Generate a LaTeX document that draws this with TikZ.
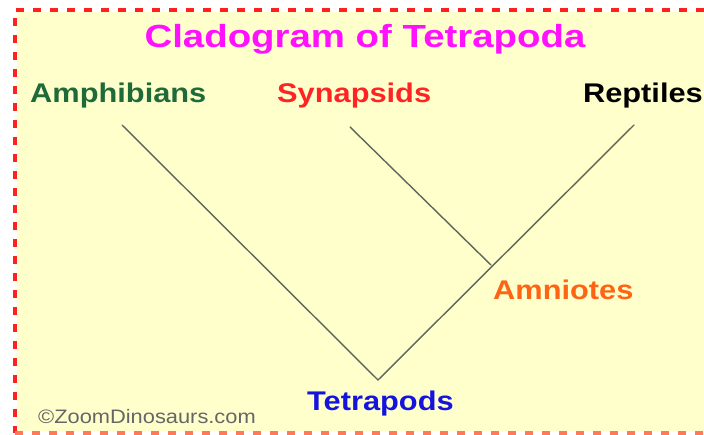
\documentclass[tikz,border=0pt]{standalone}
\usepackage{fontspec}
\setmainfont{Liberation Sans}
\newfontfamily\widesans[FakeStretch=1.14]{Liberation Sans}
\newfontfamily\titlesans[FakeStretch=1.2]{Liberation Sans}
\newfontfamily\creditsans[FakeStretch=1.12]{Liberation Sans}
\usetikzlibrary{positioning}
\definecolor{paper}{HTML}{FFFFCC}
\definecolor{framered}{HTML}{FF2020}
\definecolor{framesalmon}{HTML}{FF7A5A}
\definecolor{branchgray}{HTML}{5E665A}
\definecolor{amphgreen}{HTML}{1E6A38}
\definecolor{synred}{HTML}{FF2424}
\definecolor{amnorange}{HTML}{FF6414}
\definecolor{tetrablue}{HTML}{1414DC}
\definecolor{titlemag}{HTML}{FF10FF}
\tikzset{
  taxon/.style  ={font=\widesans\fontsize{27}{31}\selectfont\bfseries, inner sep=0pt},
  clade/.style  ={font=\widesans\fontsize{27}{31}\selectfont\bfseries, inner sep=0pt},
  heading/.style={font=\titlesans\fontsize{32}{37}\selectfont\bfseries, inner sep=0pt,
                  text=titlemag},
  credit/.style ={font=\creditsans\fontsize{19.5}{23}\selectfont, inner sep=0pt, text=black!60},
  branch/.style ={draw=branchgray, line width=1.4pt, line cap=round},
  frame/.style  ={dash pattern=on 8pt off 9pt, line width=4pt}
}

\begin{document}
\begin{tikzpicture}[x=1pt,y=-1pt]

%% ---- Page and frame ------------------------------------------------
\useasboundingbox (0,0) rectangle (704,435);
\fill[white] (0,0) rectangle (704,435);
\fill[paper] (17,12) rectangle (704,431);
\draw[frame, draw=framered] (704,10) -- (15,10) -- (15,433);
\draw[frame, draw=framesalmon] (15,433) -- (704,433);

%% ---- Title ---------------------------------------------------------
\node[heading, anchor=base] (title) at (365,48) {Cladogram of Tetrapoda};

%% ---- Tips and clades -----------------------------------------------
\node[taxon, anchor=base west, text=amphgreen] (amph) at (30,103) {Amphibians};
\node[taxon, anchor=base west, text=synred] (syn) at (277,103) {Synapsids};
\node[taxon, anchor=base east, text=black] (rep) at (703,103) {Reptiles};
\node[clade, anchor=base west, text=amnorange] (amn) at (493,300) {Amniotes};
\node[clade, anchor=base west, text=tetrablue] (tetra) at (307,410) {Tetrapods};

\coordinate (amphtip) at (122,125);
\coordinate (syntip) at (350,127);
\coordinate (reptip) at (634,125);
\coordinate (amnfork) at (491,265);
\coordinate (root) at (378,380);

%% ---- Branches ------------------------------------------------------
\draw[branch] (amphtip) -- (root) -- (reptip);
\draw[branch] (syntip) -- (amnfork);

\node[credit, anchor=base west] (copy) at (38,424) {©ZoomDinosaurs.com};
\end{tikzpicture}
\end{document}
